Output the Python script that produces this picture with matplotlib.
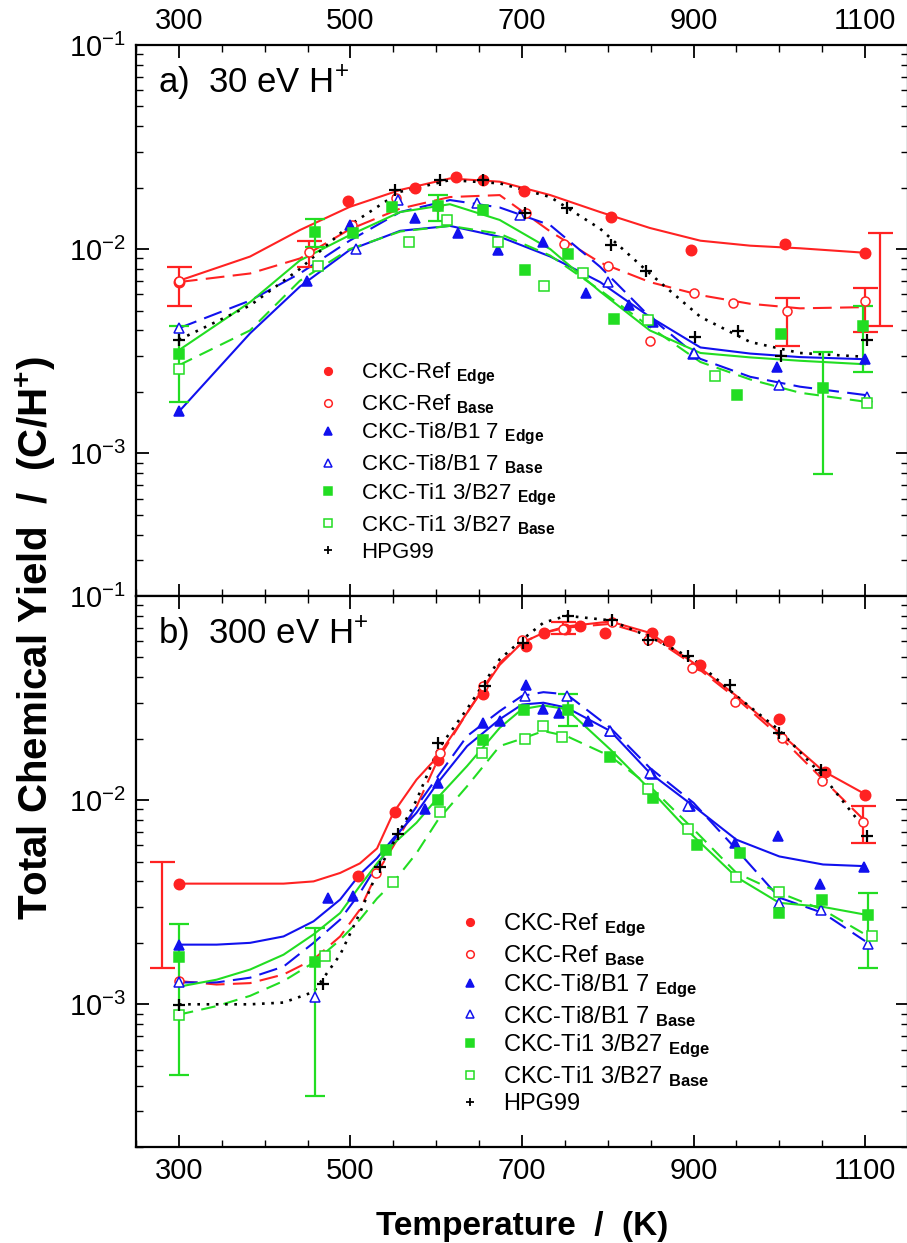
import numpy as np
import matplotlib
matplotlib.use('Agg')
import matplotlib.pyplot as plt
from matplotlib.lines import Line2D
from matplotlib.ticker import LogLocator, MultipleLocator, FixedLocator, NullFormatter

plt.rcParams['font.family'] = 'Liberation Sans'
plt.rcParams['mathtext.fontset'] = 'custom'
plt.rcParams['mathtext.rm'] = 'Liberation Sans'
plt.rcParams['mathtext.it'] = 'Liberation Sans:italic'
plt.rcParams['mathtext.bf'] = 'Liberation Sans:bold'

# ---------------- panel a) 30 eV H+ : measured points ----------------
a_ref_edge_T = [300, 497, 575, 623, 655, 702, 804, 897, 1007, 1100]
a_ref_edge_y = [6.9e-3, 1.72e-2, 2.0e-2, 2.25e-2, 2.18e-2, 1.92e-2, 1.44e-2, 9.9e-3, 1.06e-2, 9.6e-3]
a_ref_base_T = [300, 452, 502, 553, 602, 705, 749, 800, 849, 900, 946, 1009, 1100]
a_ref_base_y = [7.0e-3, 9.7e-3, 1.31e-2, 1.78e-2, 1.62e-2, 1.51e-2, 1.06e-2, 8.3e-3, 3.56e-3, 6.1e-3, 5.45e-3, 4.99e-3, 5.56e-3]
a_ti8_edge_T = [300, 449, 500, 575, 625, 672, 725, 775, 825, 853, 899, 997, 1100]
a_ti8_edge_y = [1.61e-3, 7.0e-3, 1.31e-2, 1.42e-2, 1.2e-2, 9.9e-3, 1.09e-2, 6.1e-3, 5.3e-3, 4.4e-3, 3.06e-3, 2.66e-3, 2.9e-3]
a_ti8_base_T = [300, 507, 556, 648, 698, 800, 900, 1000, 1102]
a_ti8_base_y = [4.1e-3, 1.0e-2, 1.74e-2, 1.69e-2, 1.47e-2, 6.9e-3, 3.1e-3, 2.16e-3, 1.89e-3]
a_ti13_edge_T = [300, 459, 503, 548, 602, 655, 703, 754, 807, 951, 1002, 1051, 1098]
a_ti13_edge_y = [3.08e-3, 1.22e-2, 1.2e-2, 1.6e-2, 1.62e-2, 1.55e-2, 7.9e-3, 9.5e-3, 4.55e-3, 1.94e-3, 3.83e-3, 2.1e-3, 4.2e-3]
a_ti13_base_T = [300, 462, 568, 613, 672, 726, 771, 847, 925, 1102]
a_ti13_base_y = [2.6e-3, 8.3e-3, 1.09e-2, 1.39e-2, 1.09e-2, 6.6e-3, 7.6e-3, 4.5e-3, 2.39e-3, 1.76e-3]
a_hpg_T = [300, 552, 604, 655, 703, 752, 804, 845, 902, 952, 1002, 1102]
a_hpg_y = [3.6e-3, 1.95e-2, 2.18e-2, 2.18e-2, 1.5e-2, 1.59e-2, 1.05e-2, 7.8e-3, 3.72e-3, 3.97e-3, 3.0e-3, 3.6e-3]

# panel a) fit curves (read off the figure)
a_fit_T = [300, 383, 441, 499, 558, 616, 674, 733, 791, 849, 908, 966, 1024, 1100]
a_fit_ref_edge = [7.0e-3, 9.2e-3, 1.24e-2, 1.61e-2, 1.95e-2, 2.22e-2, 2.14e-2, 1.84e-2, 1.52e-2, 1.27e-2, 1.1e-2, 1.04e-2, 1.01e-2, 9.6e-3]
a_fit_ref_base = [6.9e-3, 7.6e-3, 9.0e-3, 1.25e-2, 1.58e-2, 1.8e-2, 1.84e-2, 1.22e-2, 8.6e-3, 6.9e-3, 5.95e-3, 5.4e-3, 5.13e-3, 5.2e-3]
a_fit_ti8_edge = [1.6e-3, 3.87e-3, 6.55e-3, 9.9e-3, 1.23e-2, 1.3e-2, 1.15e-2, 9.2e-3, 6.9e-3, 4.66e-3, 3.3e-3, 3.08e-3, 2.96e-3, 2.89e-3]
a_fit_ti8_base = [4.1e-3, 5.6e-3, 7.6e-3, 1.1e-2, 1.52e-2, 1.74e-2, 1.6e-2, 1.31e-2, 8.2e-3, 4.66e-3, 2.9e-3, 2.37e-3, 2.12e-3, 1.93e-3]
a_fit_ti13_edge = [3.2e-3, 5.5e-3, 8.8e-3, 1.17e-2, 1.52e-2, 1.66e-2, 1.39e-2, 1.0e-2, 6.2e-3, 4.0e-3, 3.1e-3, 2.95e-3, 2.84e-3, 2.73e-3]
a_fit_ti13_base = [2.7e-3, 4.0e-3, 7.0e-3, 1.0e-2, 1.22e-2, 1.3e-2, 1.19e-2, 9.3e-3, 6.3e-3, 4.16e-3, 2.8e-3, 2.3e-3, 1.98e-3, 1.79e-3]
a_fit_hpg = [3.6e-3, 5.3e-3, 8.0e-3, 1.31e-2, 1.91e-2, 2.18e-2, 2.1e-2, 1.8e-2, 1.26e-2, 7.6e-3, 4.66e-3, 3.51e-3, 3.1e-3, 2.97e-3]

# panel a) error bars
a_err_red_T = [300, 452, 1009, 1100, 1117]
a_err_red_lo = [5.26e-3, 8.2e-3, 3.35e-3, 3.94e-3, 4.2e-3]
a_err_red_hi = [8.2e-3, 1.1e-2, 5.75e-3, 6.45e-3, 1.2e-2]
a_err_green_T = [300, 459, 602, 1051, 1098]
a_err_green_lo = [1.79e-3, 1.03e-2, 1.38e-2, 7.95e-4, 2.5e-3]
a_err_green_hi = [4.2e-3, 1.4e-2, 1.85e-2, 3.14e-3, 5.26e-3]

# ---------------- panel b) 300 eV H+ : measured points ----------------
b_ref_edge_T = [300, 509, 552, 602, 655, 705, 726, 750, 768, 797, 851, 871, 907, 1000, 1053, 1100]
b_ref_edge_y = [3.9e-3, 4.25e-3, 8.7e-3, 1.58e-2, 3.3e-2, 5.7e-2, 6.6e-2, 6.9e-2, 7.1e-2, 6.6e-2, 6.6e-2, 6.0e-2, 4.6e-2, 2.5e-2, 1.38e-2, 1.06e-2]
b_ref_base_T = [300, 530, 604, 655, 700, 748, 805, 847, 898, 948, 1003, 1050, 1098]
b_ref_base_y = [1.3e-3, 4.4e-3, 1.71e-2, 3.62e-2, 6.1e-2, 6.9e-2, 7.5e-2, 6.1e-2, 4.45e-2, 3.02e-2, 2.02e-2, 1.24e-2, 7.8e-3]
b_ti8_edge_T = [300, 474, 503, 587, 602, 655, 674, 705, 724, 743, 777, 803, 851, 896, 948, 999, 1047, 1099]
b_ti8_edge_y = [1.96e-3, 3.33e-3, 3.41e-3, 9.0e-3, 1.22e-2, 2.4e-2, 2.44e-2, 3.65e-2, 2.79e-2, 2.68e-2, 2.44e-2, 2.18e-2, 1.34e-2, 9.35e-3, 6.18e-3, 6.7e-3, 3.9e-3, 4.7e-3]
b_ti8_base_T = [300, 459, 703, 752, 803, 849, 894, 1000, 1049, 1103]
b_ti8_base_y = [1.28e-3, 1.08e-3, 3.24e-2, 3.24e-2, 2.18e-2, 1.36e-2, 9.4e-3, 3.14e-3, 2.9e-3, 1.98e-3]
b_ti13_edge_T = [300, 459, 542, 602, 655, 702, 754, 803, 853, 904, 954, 1000, 1050, 1103]
b_ti13_edge_y = [1.71e-3, 1.61e-3, 5.7e-3, 1.0e-2, 1.96e-2, 2.75e-2, 2.75e-2, 1.63e-2, 1.03e-2, 6.06e-3, 5.52e-3, 2.8e-3, 3.26e-3, 2.75e-3]
b_ti13_base_T = [300, 470, 550, 604, 653, 704, 724, 747, 847, 894, 950, 1000, 1108]
b_ti13_base_y = [8.9e-4, 1.73e-3, 3.96e-3, 8.77e-3, 1.7e-2, 2.0e-2, 2.3e-2, 2.05e-2, 1.13e-2, 7.24e-3, 4.2e-3, 3.56e-3, 2.16e-3]
b_hpg_T = [300, 468, 534, 556, 602, 657, 701, 754, 805, 847, 894, 943, 1000, 1049, 1102]
b_hpg_y = [9.9e-4, 1.26e-3, 4.7e-3, 6.8e-3, 1.9e-2, 3.62e-2, 5.86e-2, 8.0e-2, 7.6e-2, 6.1e-2, 5.1e-2, 3.65e-2, 2.14e-2, 1.41e-2, 6.7e-3]

# panel b) fit curves
b_fit_T = [300, 344, 383, 422, 457, 488, 511, 531, 550, 577, 602, 636, 674, 700, 725, 752, 803, 849, 900, 950, 1000, 1051, 1100]
b_fit_ref_edge = [3.9e-3, 3.9e-3, 3.9e-3, 3.9e-3, 4.0e-3, 4.4e-3, 4.9e-3, 5.8e-3, 8.67e-3, 1.26e-2, 1.64e-2, 2.68e-2, 4.6e-2, 5.9e-2, 6.6e-2, 7.1e-2, 7.5e-2, 6.6e-2, 4.7e-2, 3.24e-2, 2.14e-2, 1.39e-2, 1.07e-2]
b_fit_ref_base = [1.3e-3, 1.25e-3, 1.27e-3, 1.4e-3, 1.66e-3, 2.15e-3, 2.91e-3, 4.4e-3, 5.95e-3, 9.3e-3, 1.58e-2, 2.68e-2, 4.7e-2, 5.9e-2, 6.6e-2, 7.0e-2, 7.3e-2, 6.4e-2, 4.6e-2, 3.15e-2, 2.06e-2, 1.26e-2, 7.9e-3]
b_fit_ti8_edge = [1.96e-3, 1.96e-3, 2.0e-3, 2.15e-3, 2.55e-3, 3.26e-3, 4.33e-3, 5.2e-3, 6.5e-3, 8.67e-3, 1.22e-2, 1.84e-2, 2.49e-2, 2.94e-2, 3.0e-2, 2.84e-2, 2.18e-2, 1.36e-2, 9.35e-3, 6.4e-3, 5.3e-3, 4.84e-3, 4.75e-3]
b_fit_ti8_base = [1.28e-3, 1.28e-3, 1.35e-3, 1.53e-3, 2.0e-3, 2.6e-3, 3.51e-3, 4.8e-3, 6.3e-3, 9.3e-3, 1.31e-2, 2.06e-2, 2.73e-2, 3.24e-2, 3.38e-2, 3.3e-2, 2.26e-2, 1.44e-2, 9.7e-3, 5.73e-3, 3.33e-3, 2.8e-3, 2.04e-3]
b_fit_ti13_edge = [1.22e-3, 1.32e-3, 1.48e-3, 1.75e-3, 2.2e-3, 2.8e-3, 3.8e-3, 4.9e-3, 6.1e-3, 7.75e-3, 1.03e-2, 1.47e-2, 2.26e-2, 2.79e-2, 2.91e-2, 2.79e-2, 1.77e-2, 1.13e-2, 6.65e-3, 4.2e-3, 3.14e-3, 3.0e-3, 2.75e-3]
b_fit_ti13_base = [8.9e-4, 9.8e-4, 1.1e-3, 1.3e-3, 1.6e-3, 2.07e-3, 2.6e-3, 3.3e-3, 3.96e-3, 5.5e-3, 8.0e-3, 1.17e-2, 1.84e-2, 2.0e-2, 2.18e-2, 2.06e-2, 1.64e-2, 1.17e-2, 7.2e-3, 4.4e-3, 3.52e-3, 2.9e-3, 2.2e-3]
b_fit_hpg = [1.0e-3, 1.0e-3, 1.0e-3, 1.02e-3, 1.15e-3, 1.75e-3, 2.8e-3, 4.4e-3, 6.18e-3, 1.0e-2, 1.77e-2, 2.8e-2, 4.9e-2, 6.1e-2, 7.4e-2, 8.0e-2, 7.6e-2, 6.3e-2, 4.9e-2, 3.24e-2, 2.2e-2, 1.31e-2, 7.2e-3]

# panel b) error bars
b_err_red_T = [280, 748, 1098]
b_err_red_lo = [1.5e-3, 6.5e-2, 6.2e-3]
b_err_red_hi = [5.0e-3, 7.5e-2, 9.34e-3]
b_err_green_T = [300, 459, 754, 1103]
b_err_green_lo = [4.49e-4, 3.56e-4, 2.3e-2, 1.51e-3]
b_err_green_hi = [2.48e-3, 2.37e-3, 3.3e-2, 3.49e-3]

labels = [r'CKC-Ref $_{\mathbf{Edge}}$', r'CKC-Ref $_{\mathbf{Base}}$',
          r'CKC-Ti8/B1 7 $_{\mathbf{Edge}}$', r'CKC-Ti8/B1 7 $_{\mathbf{Base}}$',
          r'CKC-Ti1 3/B27 $_{\mathbf{Edge}}$', r'CKC-Ti1 3/B27 $_{\mathbf{Base}}$',
          'HPG99']

red = '#ff2222'
blue = '#1111ee'
green = '#22dd22'
# color, marker, filled, linestyle, markersize
styles = [(red, 'o', True, '-', 7.5),
          (red, 'o', False, (0, (9, 4)), 6.5),
          (blue, '^', True, '-', 7.5),
          (blue, '^', False, (0, (9, 4)), 7),
          (green, 's', True, '-', 7),
          (green, 's', False, (0, (7, 4)), 6.5),
          ('k', '+', True, (0, (1, 2.5)), 8)]

W, H = 907, 1243
fig = plt.figure(figsize=(W/100, H/100), dpi=100)
axL, axR = 136, 908
ax_a = fig.add_axes([axL/W, 1-596/H, (axR-axL)/W, 551/H])
ax_b = fig.add_axes([axL/W, 1-1147/H, (axR-axL)/W, 551/H])

def draw(ax, pts, fit_T, fits, errs):
    for (c, m, filled, ls, ms), fy in zip(styles, fits):
        lw = 1.9 if c == 'k' else 1.5
        ax.plot(fit_T, fy, color=c, ls=ls, lw=lw, zorder=2)
    for ec, T, lo, hi, cs in errs:
        T = np.array(T); lo = np.array(lo); hi = np.array(hi)
        mid = np.sqrt(lo*hi)
        ax.errorbar(T, mid, yerr=[mid-lo, hi-mid], fmt='none', ecolor=ec,
                    elinewidth=1.6, capsize=cs, capthick=1.6, zorder=3)
    for (c, m, filled, ls, ms), (T, y) in zip(styles, pts):
        if c == 'k':
            ax.plot(T, y, ls='none', marker=m, color=c, ms=ms, mew=1.6, zorder=4)
        else:
            ax.plot(T, y, ls='none', marker=m, color=c, ms=ms,
                    mfc=c if filled else 'white', mec=c, mew=1.1, zorder=4)

draw(ax_a,
     [(a_ref_edge_T, a_ref_edge_y), (a_ref_base_T, a_ref_base_y),
      (a_ti8_edge_T, a_ti8_edge_y), (a_ti8_base_T, a_ti8_base_y),
      (a_ti13_edge_T, a_ti13_edge_y), (a_ti13_base_T, a_ti13_base_y),
      (a_hpg_T, a_hpg_y)],
     a_fit_T,
     [a_fit_ref_edge, a_fit_ref_base, a_fit_ti8_edge, a_fit_ti8_base,
      a_fit_ti13_edge, a_fit_ti13_base, a_fit_hpg],
     [(red, a_err_red_T, a_err_red_lo, a_err_red_hi, 9),
      (green, a_err_green_T, a_err_green_lo, a_err_green_hi, 7)])

draw(ax_b,
     [(b_ref_edge_T, b_ref_edge_y), (b_ref_base_T, b_ref_base_y),
      (b_ti8_edge_T, b_ti8_edge_y), (b_ti8_base_T, b_ti8_base_y),
      (b_ti13_edge_T, b_ti13_edge_y), (b_ti13_base_T, b_ti13_base_y),
      (b_hpg_T, b_hpg_y)],
     b_fit_T,
     [b_fit_ref_edge, b_fit_ref_base, b_fit_ti8_edge, b_fit_ti8_base,
      b_fit_ti13_edge, b_fit_ti13_base, b_fit_hpg],
     [(red, b_err_red_T, b_err_red_lo, b_err_red_hi, 9),
      (green, b_err_green_T, b_err_green_lo, b_err_green_hi, 7)])

for ax in (ax_a, ax_b):
    ax.set_yscale('log')
    ax.set_ylim(2e-4, 1e-1)
    ax.set_xlim(250, 1150)
    ax.xaxis.set_major_locator(FixedLocator([300, 500, 700, 900, 1100]))
    ax.xaxis.set_minor_locator(MultipleLocator(50))
    ax.yaxis.set_major_locator(LogLocator(base=10))
    ax.yaxis.set_minor_locator(LogLocator(base=10, subs=np.arange(2, 10)))
    ax.yaxis.set_minor_formatter(NullFormatter())
    ax.tick_params(which='both', direction='in', top=True, right=True, labelsize=21)
    ax.tick_params(which='major', length=9, width=1.3, pad=7)
    ax.tick_params(which='minor', length=5, width=1.0)
    for s in ax.spines.values():
        s.set_linewidth(1.6)

ax_a.tick_params(labeltop=True, labelbottom=False)

ax_a.text(0.0285, 0.912, r'a)  30 eV H$^{+}$', transform=ax_a.transAxes, fontsize=25, va='baseline')
ax_b.text(0.0285, 0.912, r'b)  300 eV H$^{+}$', transform=ax_b.transAxes, fontsize=25, va='baseline')

def handles():
    hs = []
    for c, m, filled, ls, ms in styles:
        if c == 'k':
            hs.append(Line2D([], [], ls='none', marker=m, color=c, ms=6, mew=1.3))
        else:
            hs.append(Line2D([], [], ls='none', marker=m, color=c, ms=5.5,
                             mfc=c if filled else 'white', mec=c, mew=1.1))
    return hs

ax_a.legend(handles(), labels, loc='upper left', bbox_to_anchor=(0.2345, 0.4265),
            frameon=False, fontsize=16, handlelength=1.0, handletextpad=1.0,
            labelspacing=0.24, borderpad=0, borderaxespad=0)
ax_b.legend(handles(), labels, loc='upper left', bbox_to_anchor=(0.417, 0.4265),
            frameon=False, fontsize=17, handlelength=1.0, handletextpad=0.9,
            labelspacing=0.17, borderpad=0, borderaxespad=0)

fig.text(0.04, 1-638/H, r'Total Chemical Yield  /  (C/H$^{\mathbf{+}}$)', rotation=90,
         fontsize=29, fontweight='bold', ha='center', va='center')
fig.text(522/W, 1-1235/H, 'Temperature  /  (K)', fontsize=24, fontweight='bold',
         ha='center', va='baseline')

fig.savefig('out.png', dpi=100)
